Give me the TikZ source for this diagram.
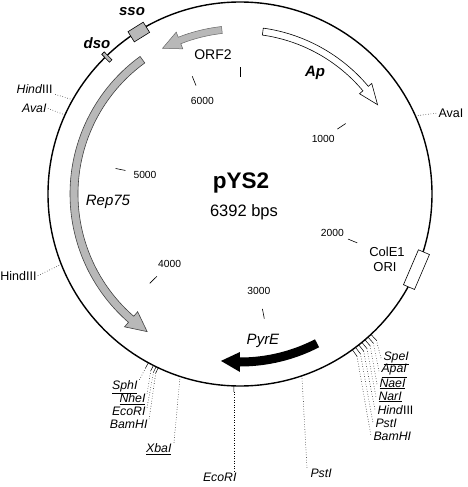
\documentclass[tikz,border=0pt]{standalone}
\usepackage{fontspec}
\setmainfont{Liberation Sans}
\definecolor{garr}{gray}{0.72}
\newcommand{\garrow}[7]{%
  \path[#1] ({90-#2}:{#5+#6}) arc[start angle={90-#2}, end angle={90-#3}, radius={#5+#6}]
    -- ({90-#3}:{#5+#7}) -- ({90-#4}:#5) -- ({90-#3}:{#5-#7}) -- ({90-#3}:{#5-#6})
    arc[start angle={90-#3}, end angle={90-#2}, radius={#5-#6}] -- cycle;}
\tikzset{
  site/.style={font=\fontsize{12.3}{12.5}\selectfont\itshape, inner sep=0.3pt},
  numlbl/.style={font=\fontsize{10.3}{11}\selectfont, inner sep=0.5pt},
  glab/.style={font=\fontsize{15}{15}\selectfont\itshape, inner sep=0.5pt},
  dotln/.style={dotted, line width=0.55pt},
  sitetick/.style={line width=0.5pt},
  mtick/.style={line width=0.6pt},
  graybox/.style={draw, line width=0.6pt, fill=garr, inner sep=0pt}
}
\begin{document}
\begin{tikzpicture}[x=1pt,y=1pt]
\useasboundingbox (-240,-293) rectangle (227,194);
% backbone
\node[circle, minimum size=384pt, inner sep=0pt] (plasmid) at (0,0) {};
\draw[line width=1.4pt] (0,0) circle[radius=192];
% centre text
\node[font=\bfseries\fontsize{22.5}{23}\selectfont, inner sep=0pt] (pname) at (1,11) {pYS2};
\node[font=\fontsize{16.5}{17}\selectfont, inner sep=0pt] (psize) at (4,-18) {6392 bps};
% scale ticks
\foreach \t in {0,56.32,112.64,168.96,225.28,281.6,337.92}{
  \draw[mtick] ({90-\t}:117) -- ({90-\t}:127);}
\node[numlbl] (n1000) at ({90-56.32}:100) {1000};
\node[numlbl] (n2000) at ({90-112.64}:100) {2000};
\node[numlbl] (n3000) at ({90-168.96}:99) {3000};
\node[numlbl] (n4000) at ({90-225.28}:99) {4000};
\node[numlbl] (n5000) at ({90-281.6}:97) {5000};
\node[numlbl] (n6000) at ({90-337.92}:100) {6000};
% genes
\garrow{draw=black, fill=white, line width=0.6pt}{8}{50}{57}{164}{3.5}{8}
\garrow{draw=black!60, fill=garr, line width=0.5pt}{353.7}{338.5}{332}{165}{3.5}{9}
\garrow{draw=black!75, fill=garr, line width=0.6pt}{324}{221}{214}{166}{4}{10}
\garrow{fill=black}{152.7}{180}{186.5}{168}{4.5}{10}
\node[glab, font=\fontsize{14}{14}\selectfont\upshape] (orf2) at (-27,139) {ORF2};
\node[glab] (ap) at (75,121) {\bfseries Ap};
\node[glab] (rep) at (-132,-8) {Rep75};
\node[glab] (pyre) at (23,-147) {PyrE};
% origins
\node[graybox, minimum width=18pt, minimum height=12pt, rotate=-328] (sso) at ({90-328}:191) {};
\node[graybox, minimum width=3.5pt, minimum height=11pt, rotate=-315.8] (dso) at ({90-315.8}:191) {};
\node[draw, line width=0.6pt, fill=white, inner sep=0pt, minimum width=38pt, minimum height=12pt, rotate=-113.2] (cole1) at ({90-113.2}:192) {};
\node[glab, font=\fontsize{15}{15}\selectfont\bfseries\itshape] (ssol) at (-108,182) {sso};
\node[glab, font=\fontsize{15}{15}\selectfont\bfseries\itshape] (dsol) at (-143,151) {dso};
\node[font=\fontsize{13}{13}\selectfont, inner sep=0.5pt] (colel) at (147,-58) {ColE1};
\node[font=\fontsize{13}{13}\selectfont, inner sep=0.5pt] (oril) at (145,-73) {ORI};
% single sites
\coordinate (cH1) at ({90-299.4}:192);
\node[site, anchor=east] (H1) at (-187,105) {Hind\textup{III}};
\draw[dotln] (cH1) -- ([xshift=1pt]H1.south east);
\coordinate (cA1) at ({90-294.3}:192);
\node[site, anchor=east] (A1) at (-193,86) {AvaI};
\draw[dotln] (cA1) -- (A1.east);
\coordinate (cA2) at ({90-66}:192);
\node[site, anchor=west, font=\fontsize{12.5}{13}\selectfont] (A2) at (198,81) {AvaI};
\draw[dotln] (cA2) -- (A2.west);
\coordinate (cH2) at ({90-248.5}:192);
\node[site, anchor=east, font=\fontsize{12.5}{13}\selectfont] (H2) at (-203,-82) {HindIII};
\draw[dotln] (cH2) -- (H2.east);
% lower-left cluster
\node[site, anchor=east] (sph) at (-102,-193) {\underline{SphI}};
\node[site, anchor=east] (nhe) at (-94,-205.5) {\underline{NheI}};
\node[site, anchor=east] (eco1) at (-94,-217.5) {EcoRI};
\node[site, anchor=east] (bam1) at (-92,-230) {BamHI};
\foreach \a/\n in {208.5/sph,206.8/nhe,205.9/eco1,205.2/bam1}{
  \coordinate (c\n) at ({90-\a}:192);
  \coordinate (d\n) at ({90-\a}:198);
  \draw[sitetick] (c\n) -- (d\n);
  \draw[dotln] (d\n) -- ([xshift=1pt,yshift=-1pt]\n.north east);}
\coordinate (cxba) at ({90-198.2}:192);
\node[site, anchor=east] (xba) at (-68,-255) {\underline{XbaI}};
\draw[dotln] (cxba) -- ([xshift=2pt]xba.north east);
\coordinate (ceco2) at ({90-181.8}:192);
\coordinate (deco2) at ({90-181.8}:198);
\node[site, anchor=east] (eco2) at (-3,-283) {EcoRI};
\draw[sitetick] (ceco2) -- (deco2);
\draw[dotln] (deco2) -- (deco2 |- eco2.north);
\coordinate (cpst2) at ({90-161.2}:192);
\node[site, anchor=west] (pst2) at (70,-279) {PstI};
\draw[dotln] (cpst2) -- ([xshift=-3pt]pst2.north west);
% lower-right cluster
\node[site, anchor=west] (spe) at (143,-164) {\underline{SpeI}};
\node[site, anchor=west] (apa) at (141,-177) {\underline{ApaI}};
\node[site, anchor=west] (nae) at (139,-190) {\underline{NaeI}};
\node[site, anchor=west] (nar) at (138,-203) {\underline{NarI}};
\node[site, anchor=west] (hin3) at (137,-216) {Hind\textup{III}};
\node[site, anchor=west] (pst3) at (135,-229) {PstI};
\node[site, anchor=west] (bam3) at (133,-242) {BamHI};
\foreach \a/\n in {137/spe,138.2/apa,139.4/nae,140.6/nar,141.8/hin3,143/pst3,144.2/bam3}{
  \coordinate (c\n) at ({90-\a}:192);
  \coordinate (d\n) at ({90-\a}:200);
  \draw[sitetick] (c\n) -- (d\n);
  \draw[dotln] (d\n) -- ([xshift=-2pt]\n.west);}
\end{tikzpicture}
\end{document}
